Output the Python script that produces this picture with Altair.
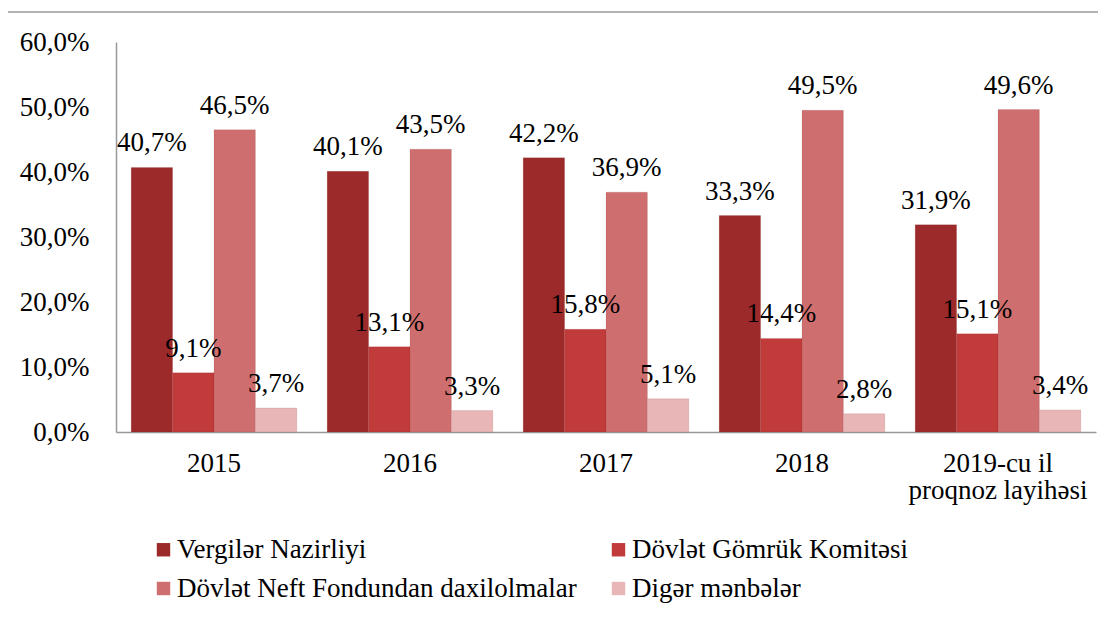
import altair as alt
import pandas as pd

years = ["2015", "2016", "2017", "2018", "2019-cu il|proqnoz layihəsi"]
series = ["Vergilər Nazirliyi", "Dövlət Gömrük Komitəsi",
          "Dövlət Neft Fondundan daxilolmalar", "Digər mənbələr"]
vergiler = [40.7, 40.1, 42.2, 33.3, 31.9]
gomruk = [9.1, 13.1, 15.8, 14.4, 15.1]
neft = [46.5, 43.5, 36.9, 49.5, 49.6]
diger = [3.7, 3.3, 5.1, 2.8, 3.4]
colors = ["#9C2A2A", "#C23B3B", "#CF6E6E", "#E8B6B6"]

rows = []
for s, vals in zip(series, [vergiler, gomruk, neft, diger]):
    for y, v in zip(years, vals):
        rows.append({"year": y, "series": s, "value": v})
df = pd.DataFrame(rows)

FONT = "Liberation Serif"
FS = 27

x = alt.X("year:N", sort=years, title=None,
          scale=alt.Scale(paddingInner=0.155, paddingOuter=0.0775),
          axis=alt.Axis(labelExpr="split(datum.value, '|')", labelAngle=0,
                        labelFontSize=FS, labelFont=FONT, labelColor="#000",
                        labelPadding=18, labelLineHeight=27, ticks=False,
                        domainColor="#999", domainWidth=1.5))
xoff = alt.XOffset("series:N", sort=series, scale=alt.Scale(paddingInner=0, paddingOuter=0))
y = alt.Y("value:Q", title=None,
          scale=alt.Scale(domain=[0, 60]),
          axis=alt.Axis(values=[0, 10, 20, 30, 40, 50, 60],
                        labelExpr="replace(format(datum.value, '.1f'), '.', ',') + '%'",
                        labelFontSize=FS, labelFont=FONT, labelColor="#000",
                        labelPadding=27, ticks=False, grid=False,
                        domainColor="#999", domainWidth=1.5))

base = alt.Chart(df)

bars = base.mark_bar(stroke="#7a1f1f", strokeWidth=0.3, strokeOpacity=0.4).encode(
    x=x, xOffset=xoff, y=y,
    color=alt.Color("series:N", sort=series,
                    scale=alt.Scale(domain=series, range=colors),
                    legend=alt.Legend(title=None, orient="none", columns=2,
                                      direction="horizontal",
                                      legendX=34, legendY=494,
                                      symbolType="square", symbolSize=180,
                                      symbolStrokeWidth=0,
                                      labelFont=FONT, labelFontSize=FS,
                                      labelColor="#000", labelOffset=0,
                                      columnPadding=28, rowPadding=11,
                                      labelLimit=600, padding=0)),
)

labels = base.mark_text(baseline="alphabetic", dy=-16, fontSize=FS, font=FONT,
                        color="#000").transform_calculate(
    lbl="replace(format(datum.value, '.1f'), '.', ',') + '%'"
).encode(x=x, xOffset=xoff, y=y, text="lbl:N")

border_df = pd.DataFrame({"a": [0]})
top_border = alt.Chart(border_df).mark_rule(color="#999", strokeWidth=1.5).encode(
    x=alt.value(-109), x2=alt.value(990), y=alt.value(-30))
left_border = alt.Chart(border_df).mark_rule(color="#999", strokeWidth=1.5).encode(
    x=alt.value(-109), y=alt.value(-30), y2=alt.value(600))

chart = alt.layer(bars, labels, top_border, left_border).properties(
    width=980, height=390,
    autosize=alt.AutoSizeParams(type="none"),
    padding={"left": 108, "top": 34, "right": 2, "bottom": 181},
).configure_view(stroke=None)

chart.save("out.html", embed_options={"renderer": "svg", "actions": False})
